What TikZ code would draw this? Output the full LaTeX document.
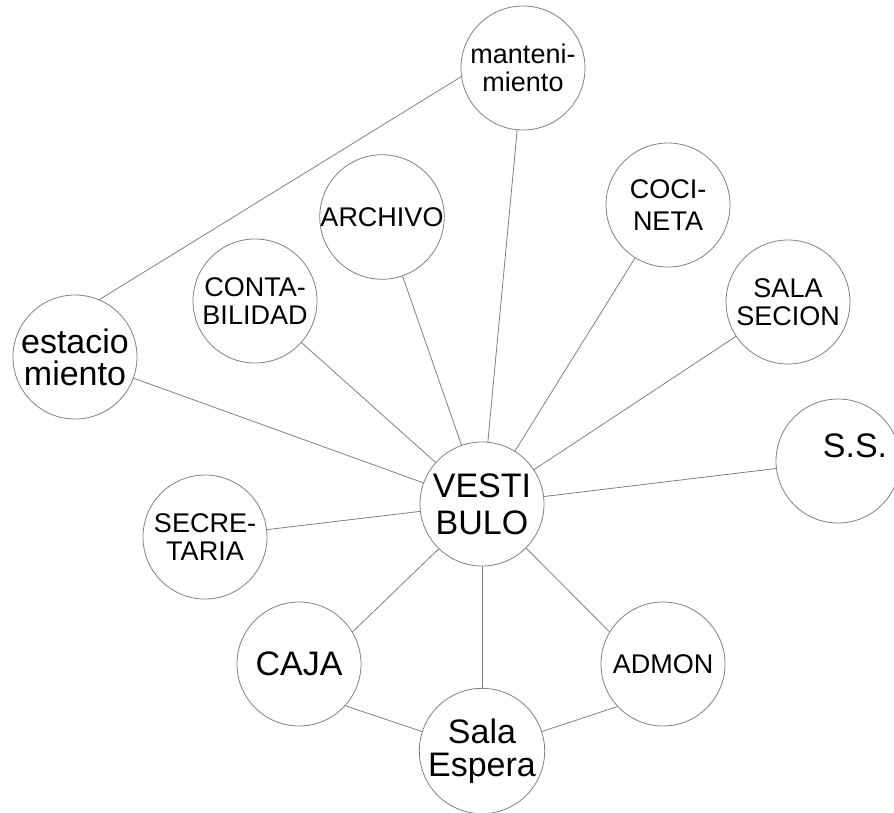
\documentclass[tikz,border=0pt]{standalone}
\usepackage{fontspec}
\setmainfont{Liberation Sans}

\begin{document}
\begin{tikzpicture}[
    x=1pt,
    y=-1pt,
    room/.style={circle, draw=black!50, line width=0.8pt, minimum size=124pt, inner sep=0pt, align=center},
    big/.style={font=\fontsize{34}{33}\selectfont},
    small/.style={font=\fontsize{27}{28}\selectfont},
    link/.style={draw=black!50, line width=0.8pt}
  ]
    \useasboundingbox (0,0) rectangle (894,812);

    % rooms
    \node[room, small] (mant) at (523,68) {manteni-\\miento};
    \node[room, small] (arch) at (382,217) {ARCHIVO};
    \node[room, small, font=\fontsize{27}{32}\selectfont] (coci) at (668,205) {COCI-\\NETA};
    \node[room, small] (conta) at (255,301) {CONTA-\\BILIDAD};
    \node[room, small] (sala) at (788,302) {SALA\\SECION};
    \node[room, big, font=\fontsize{34}{32}\selectfont] (estac) at (75,357) {estacio\\miento};
    \node[room, big, font=\fontsize{34}{37}\selectfont] (vest) at (482,504) {VESTI\\BULO};
    \node[room, label={[big, xshift=17pt, yshift=15pt]center:S.S.}] (ss) at (838,461) {};
    \node[room, small] (secr) at (205,537) {SECRE-\\TARIA};
    \node[room, big] (caja) at (299,664) {CAJA};
    \node[room, small] (admon) at (663,664) {ADMON};
    \node[room, big] (espera) at (482,751) {Sala\\Espera};

    % links to the hall
    \draw[link] (estac) -- (vest);
    \draw[link] (conta) -- (vest);
    \draw[link] (arch) -- (vest);
    \draw[link] (mant) -- (vest);
    \draw[link] (coci) -- (vest);
    \draw[link] (sala) -- (vest);
    \draw[link] (ss) -- (vest);
    \draw[link] (secr) -- (vest);
    \draw[link] (espera) -- (vest);
    \draw[link] (caja.31) -- (vest.226);
    \draw[link] (vest.-45) -- (admon.149);

    % other links
    \draw[link] (estac.67) -- (mant.188);
    \draw[link] (caja.-42) -- (espera.162);
    \draw[link] (espera.18) -- (admon.223);
  \end{tikzpicture}
\end{document}
